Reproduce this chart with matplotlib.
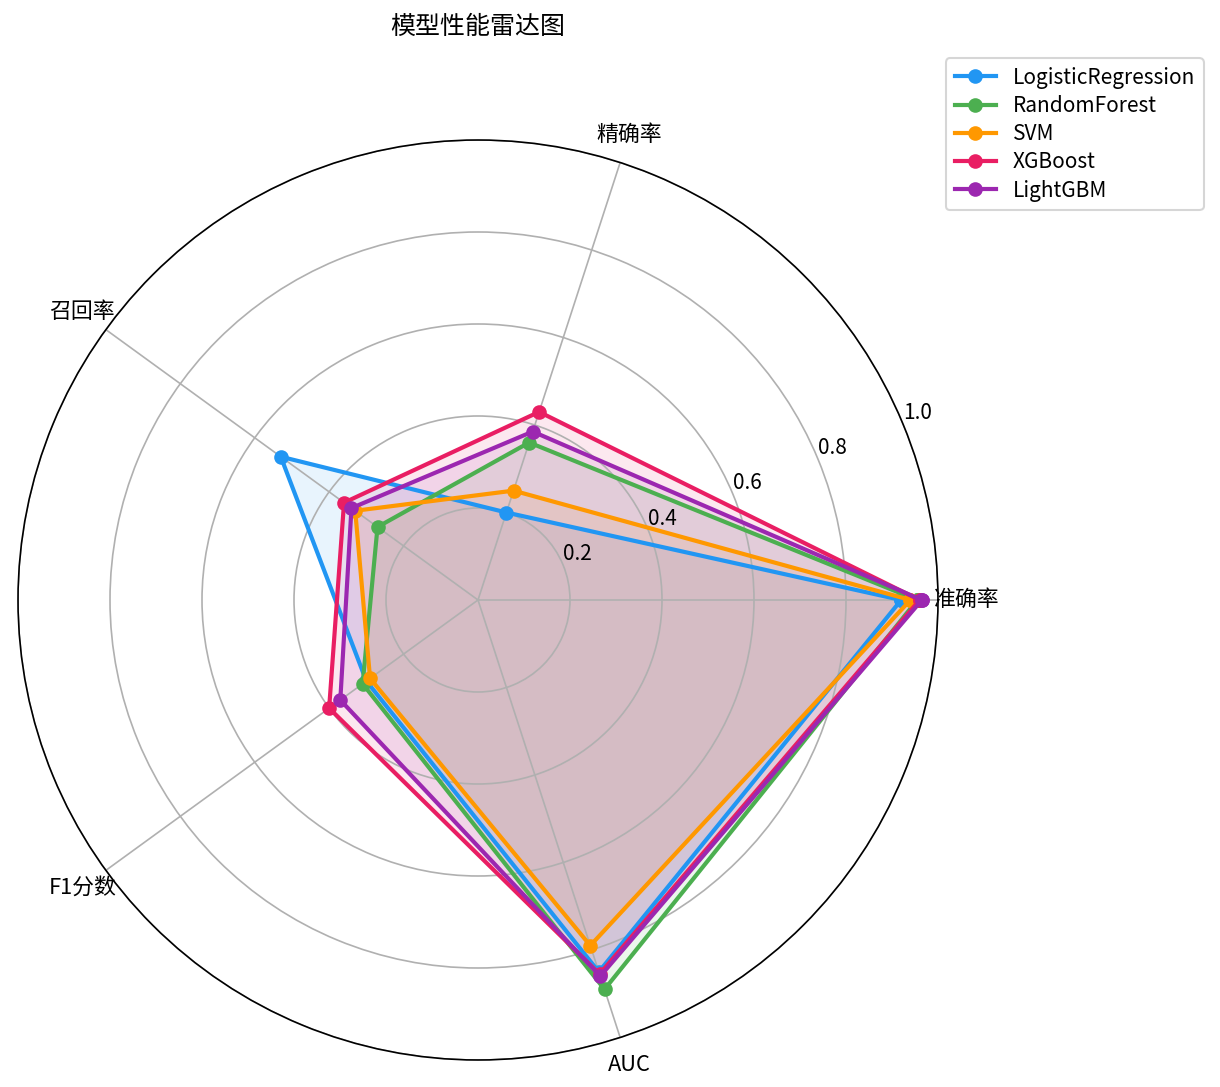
import numpy as np
import matplotlib
matplotlib.use('Agg')
import matplotlib.pyplot as plt

plt.rcParams['font.family'] = ['Noto Sans CJK SC', 'DejaVu Sans']
plt.rcParams['axes.unicode_minus'] = False

# 指标与各模型得分
categories = ['准确率', '精确率', '召回率', 'F1分数', 'AUC']
models = ['LogisticRegression', 'RandomForest', 'SVM', 'XGBoost', 'LightGBM']
lr_scores = [0.92, 0.20, 0.53, 0.30, 0.85]
rf_scores = [0.955, 0.36, 0.27, 0.31, 0.89]
svm_scores = [0.94, 0.25, 0.33, 0.29, 0.79]
xgb_scores = [0.96, 0.43, 0.36, 0.40, 0.855]
lgbm_scores = [0.965, 0.385, 0.34, 0.37, 0.86]
colors = ['#2196F3', '#4CAF50', '#FF9800', '#E91E63', '#9C27B0']

scores = [lr_scores, rf_scores, svm_scores, xgb_scores, lgbm_scores]

angles = np.linspace(0, 2 * np.pi, len(categories), endpoint=False).tolist()
angles += angles[:1]

fig = plt.figure(figsize=(1220 / 150, 1087 / 150), dpi=150)
ax = fig.add_axes([18 / 1220, 27 / 1087, 920 / 1220, 920 / 1087], polar=True)

for name, vals, c in zip(models, scores, colors):
    v = vals + vals[:1]
    ax.plot(angles, v, 'o-', linewidth=2, markersize=6, color=c, label=name)
    ax.fill(angles, v, color=c, alpha=0.1)

ax.set_xticks(angles[:-1])
ax.set_xticklabels(categories, fontsize=10.5)
ax.set_ylim(0, 1)
ax.set_yticks([0.2, 0.4, 0.6, 0.8, 1.0])
ax.set_yticklabels(['0.2', '0.4', '0.6', '0.8', '1.0'], fontsize=10)
ax.set_title('模型性能雷达图', fontsize=12, pad=51)
ax.legend(loc='upper right', bbox_to_anchor=(1.3, 1.1), fontsize=10,
          labelspacing=0.3)

fig.savefig('out.png', dpi=150)
